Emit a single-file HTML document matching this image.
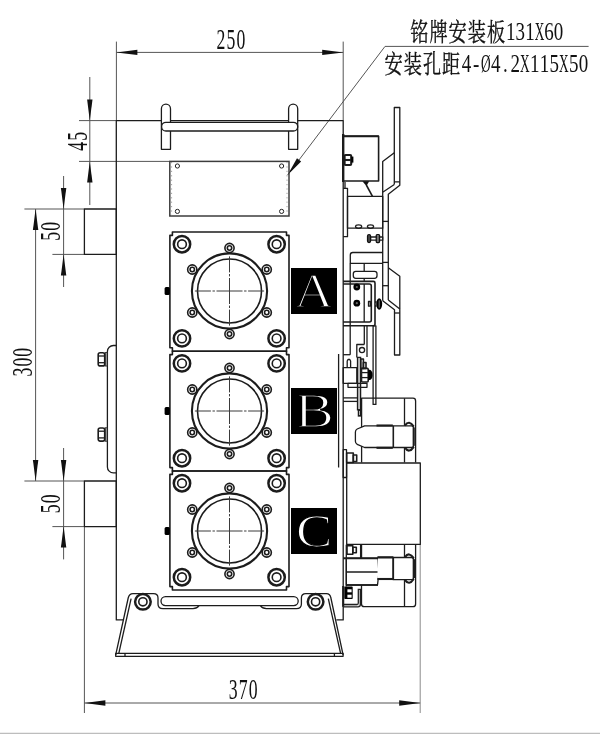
<!DOCTYPE html>
<html lang="zh"><head><meta charset="utf-8"><title>drawing</title><style>
html,body{margin:0;padding:0;background:#fff}
svg{display:block;will-change:transform}
.o,.ow,.o15,.o2,.of{stroke:#1c1c1c;stroke-width:1.3;fill:none;stroke-linecap:butt;stroke-linejoin:round}
.ow{fill:#fff}
.o15{stroke-width:1.6}
.o2{stroke-width:2.1}
.of{stroke-width:.7;stroke:#777}
.o25{stroke:#1c1c1c;stroke-width:2.4;fill:none}
.og{stroke:#666;stroke-width:1.1;fill:none}
.wl{stroke:#bbb;stroke-width:.7;fill:none}
.kd{fill:#444;stroke:#111;stroke-width:1.2}
.gd{fill:#666;stroke:none}
.wf{fill:#fff;stroke:none}
.lb{fill:#ddd;stroke:#222;stroke-width:1.3}
.d2{stroke:#8c8c8c;stroke-width:1;fill:none}
.pl{fill:#c4c4c4;stroke:#1c1c1c;stroke-width:1.3}
.k{fill:#000;stroke:none}
.d{stroke:#555;stroke-width:1;fill:none}
.g{stroke:#bdbdbd;stroke-width:1.2;fill:none}
.h{stroke:#888;stroke-width:.8;stroke-dasharray:1.2 3.2;fill:none}
.np{stroke:#3c3c3c;stroke-width:1.5;fill:none}
.o1{stroke:#222;stroke-width:1;fill:none}
.cl{stroke:#3a3a3a;stroke-width:1;stroke-dasharray:16 1.6 2.4 1.6 26 1.6 2.4 1.6 16;fill:none}
.ring{stroke:#1c1c1c;stroke-width:2.5;fill:none}
.a{fill:#111;stroke:none}
text{fill:#111}
.n,.nd{font-family:"Liberation Serif",serif}
.nd{letter-spacing:1.8px}
.cj{font-family:"Liberation Serif","Noto Serif CJK SC",serif;stroke:#111;stroke-width:.35}
.cj .n{stroke:none}
.wash{fill:#999;stroke:#222;stroke-width:.9}
.wt{stroke-width:1.7 !important}
.w{font-family:"Liberation Serif",serif;fill:#fff;stroke:#000;stroke-width:1.2}
</style></head>
<body>
<svg width="600" height="735" viewBox="0 0 600 735">
<line class="g" x1="0" y1="733.4" x2="600" y2="733.4"/>
<line class="d" x1="116.4" y1="41.6" x2="116.4" y2="120.6"/>
<line class="d" x1="343.2" y1="41.6" x2="343.2" y2="120.6"/>
<line class="d" x1="116.4" y1="52.4" x2="343.2" y2="52.4"/>
<polygon class="a" points="116.4,52.4 137.4,49.7 137.4,55.1"/>
<polygon class="a" points="343.2,52.4 322.2,55.1 322.2,49.7"/>
<line class="d" x1="79" y1="120.6" x2="116.4" y2="120.6"/>
<line class="d" x1="79" y1="161.4" x2="169.6" y2="161.4"/>
<line class="d" x1="89.8" y1="77" x2="89.8" y2="205"/>
<polygon class="a" points="89.8,120.6 87.1,99.6 92.5,99.6"/>
<polygon class="a" points="89.8,161.4 92.5,182.4 87.1,182.4"/>
<line class="d" x1="24.4" y1="209" x2="84.4" y2="209"/>
<line class="d" x1="52.4" y1="254.4" x2="84.4" y2="254.4"/>
<line class="d" x1="63.6" y1="176" x2="63.6" y2="287"/>
<polygon class="a" points="63.6,209 60.9,188 66.3,188"/>
<polygon class="a" points="63.6,254.4 66.3,275.4 60.9,275.4"/>
<line class="d" x1="35.6" y1="209" x2="35.6" y2="481"/>
<polygon class="a" points="35.6,209 38.3,230 32.9,230"/>
<polygon class="a" points="35.6,481 32.9,460 38.3,460"/>
<line class="d" x1="24.4" y1="481" x2="84.4" y2="481"/>
<line class="d" x1="52.4" y1="526.6" x2="84.4" y2="526.6"/>
<line class="d" x1="63.6" y1="448" x2="63.6" y2="559.4"/>
<polygon class="a" points="63.6,481 60.9,460 66.3,460"/>
<polygon class="a" points="63.6,526.6 66.3,547.6 60.9,547.6"/>
<line class="d" x1="84.4" y1="526.6" x2="84.4" y2="713"/>
<line class="d2" x1="420.2" y1="544.7" x2="420.2" y2="713"/>
<line class="d" x1="84.4" y1="703" x2="420.2" y2="703"/>
<polygon class="a" points="84.4,703 105.4,700.3 105.4,705.7"/>
<polygon class="a" points="420.2,703 399.2,705.7 399.2,700.3"/>
<line class="d" x1="385" y1="46.4" x2="588.6" y2="46.4"/>
<line class="d" x1="385" y1="46.4" x2="287.6" y2="175"/>
<polygon class="a" points="287.6,175 297,158.28 301.14,161.42"/>
<text class="nd" transform="translate(216.5,49) scale(0.62,1)" font-size="28.6" text-anchor="start">250</text>
<text class="nd" transform="translate(228.7,699) scale(0.62,1)" font-size="28.6" text-anchor="start">370</text>
<text class="nd" transform="translate(87.3,150.7) rotate(-90) scale(0.62,1)" font-size="28.6" text-anchor="start">45</text>
<text class="nd" transform="translate(60,240.8) rotate(-90) scale(0.62,1)" font-size="28.6" text-anchor="start">50</text>
<text class="nd" transform="translate(32,376.6) rotate(-90) scale(0.62,1)" font-size="28.6" text-anchor="start">300</text>
<text class="nd" transform="translate(60,513.2) rotate(-90) scale(0.62,1)" font-size="28.6" text-anchor="start">50</text>
<text class="cj" y="40.6" font-size="25.4"><tspan x="410.3" textLength="18.16" lengthAdjust="spacingAndGlyphs">铭</tspan><tspan x="429.46" textLength="18.16" lengthAdjust="spacingAndGlyphs">牌</tspan><tspan x="448.62" textLength="18.16" lengthAdjust="spacingAndGlyphs">安</tspan><tspan x="467.78" textLength="18.16" lengthAdjust="spacingAndGlyphs">装</tspan><tspan x="486.94" textLength="18.16" lengthAdjust="spacingAndGlyphs">板</tspan><tspan class="n" x="506.03" y="40" font-size="26" textLength="9.49" lengthAdjust="spacingAndGlyphs">1</tspan><tspan class="n" x="515.58" y="40" font-size="26" textLength="9.49" lengthAdjust="spacingAndGlyphs">3</tspan><tspan class="n" x="525.13" y="40" font-size="26" textLength="9.49" lengthAdjust="spacingAndGlyphs">1</tspan><tspan class="n" x="534.63" y="40" font-size="26" textLength="9.59" lengthAdjust="spacingAndGlyphs">X</tspan><tspan class="n" x="544.23" y="40" font-size="26" textLength="9.49" lengthAdjust="spacingAndGlyphs">6</tspan><tspan class="n" x="553.78" y="40" font-size="26" textLength="9.49" lengthAdjust="spacingAndGlyphs">0</tspan></text>
<text class="cj" y="73.2" font-size="25.4"><tspan x="384.6" textLength="18.16" lengthAdjust="spacingAndGlyphs">安</tspan><tspan x="403.76" textLength="18.16" lengthAdjust="spacingAndGlyphs">装</tspan><tspan x="422.92" textLength="18.16" lengthAdjust="spacingAndGlyphs">孔</tspan><tspan x="442.08" textLength="18.16" lengthAdjust="spacingAndGlyphs">距</tspan><tspan class="n" x="461.63" y="72.4" font-size="26" textLength="9.49" lengthAdjust="spacingAndGlyphs">4</tspan><tspan class="n" x="472.96" y="72.4" font-size="26" textLength="6.32" lengthAdjust="spacingAndGlyphs">-</tspan><tspan class="n" x="481.08" y="72.4" font-size="26" textLength="9.59" lengthAdjust="spacingAndGlyphs">Ø</tspan><tspan class="n" x="490.88" y="72.4" font-size="26" textLength="9.49" lengthAdjust="spacingAndGlyphs">4</tspan><tspan class="n" x="503" y="72.4" font-size="26" textLength="4.75" lengthAdjust="spacingAndGlyphs">.</tspan><tspan class="n" x="510.38" y="72.4" font-size="26" textLength="9.49" lengthAdjust="spacingAndGlyphs">2</tspan><tspan class="n" x="520.08" y="72.4" font-size="26" textLength="9.59" lengthAdjust="spacingAndGlyphs">X</tspan><tspan class="n" x="529.88" y="72.4" font-size="26" textLength="9.49" lengthAdjust="spacingAndGlyphs">1</tspan><tspan class="n" x="539.63" y="72.4" font-size="26" textLength="9.49" lengthAdjust="spacingAndGlyphs">1</tspan><tspan class="n" x="549.38" y="72.4" font-size="26" textLength="9.49" lengthAdjust="spacingAndGlyphs">5</tspan><tspan class="n" x="559.08" y="72.4" font-size="26" textLength="9.59" lengthAdjust="spacingAndGlyphs">X</tspan><tspan class="n" x="568.88" y="72.4" font-size="26" textLength="9.49" lengthAdjust="spacingAndGlyphs">5</tspan><tspan class="n" x="578.63" y="72.4" font-size="26" textLength="9.49" lengthAdjust="spacingAndGlyphs">0</tspan></text>
<polyline class="o" points="123,619.9 116.3,619.9 116.3,120.6 343.2,120.6 343.2,619.9 336.4,619.9"/>
<rect class="o" x="84.4" y="209" width="31.9" height="45.4"/>
<rect class="o" x="84.4" y="481" width="31.9" height="45.6"/>
<path class="ow" d="M161.4,149.3 V108.7 A4.55,4.55 0 0 1 170.5,108.7 V149.3 Z"/>
<path class="ow" d="M288.6,149.3 V108.7 A4.55,4.55 0 0 1 297.7,108.7 V149.3 Z"/>
<rect class="ow" x="161.6" y="122.3" width="136.1" height="8.7" rx="4.35" ry="4.35"/>
<rect class="np" x="169.8" y="161.4" width="119.2" height="54.6"/>
<line class="h" x1="171.6" y1="162" x2="171.6" y2="215.5"/>
<line class="h" x1="287" y1="162" x2="287" y2="215.5"/>
<circle class="o1" cx="177.4" cy="166" r="2.1"/>
<circle class="o1" cx="177.4" cy="211.4" r="2.1"/>
<circle class="o1" cx="281.6" cy="166" r="2.1"/>
<circle class="o1" cx="281.6" cy="211.4" r="2.1"/>
<path class="o" d="M116.4,345.5 H113.4 A6,6 0 0 0 107.4,351.5 V466.9 A6,6 0 0 0 113.4,472.9 H116.4"/>
<rect class="wash" x="105" y="352.6" width="2.4" height="13.4"/>
<rect class="o15" x="98.2" y="352.8" width="6.5" height="13.1" rx="2" ry="2"/>
<line class="o" x1="98.2" y1="356" x2="104.7" y2="356"/>
<line class="o" x1="98.2" y1="362.7" x2="104.7" y2="362.7"/>
<rect class="wash" x="105" y="427.8" width="2.4" height="13.4"/>
<rect class="o15" x="98.2" y="428" width="6.5" height="13.1" rx="2" ry="2"/>
<line class="o" x1="98.2" y1="431.2" x2="104.7" y2="431.2"/>
<line class="o" x1="98.2" y1="437.9" x2="104.7" y2="437.9"/>
<path class="o15" d="M169.9,235.4 H172.4 V232 H286.5 V235.4 H289 V347.8 H286.5 V351.2 H172.4 V347.8 H169.9 Z"/>
<circle class="ring" cx="182" cy="244.2" r="8.2"/>
<circle class="o15" cx="182" cy="244.2" r="4.35"/>
<circle class="ring" cx="182" cy="338.4" r="8.2"/>
<circle class="o15" cx="182" cy="338.4" r="4.35"/>
<circle class="ring" cx="276.6" cy="244.2" r="8.2"/>
<circle class="o15" cx="276.6" cy="244.2" r="4.35"/>
<circle class="ring" cx="276.6" cy="338.4" r="8.2"/>
<circle class="o15" cx="276.6" cy="338.4" r="4.35"/>
<circle class="o15" cx="229.5" cy="248" r="4.6"/>
<circle class="o15" cx="229.5" cy="248" r="2.2"/>
<circle class="o15" cx="192.26" cy="269.5" r="4.6"/>
<circle class="o15" cx="192.26" cy="269.5" r="2.2"/>
<circle class="o15" cx="192.26" cy="312.5" r="4.6"/>
<circle class="o15" cx="192.26" cy="312.5" r="2.2"/>
<circle class="o15" cx="229.5" cy="334" r="4.6"/>
<circle class="o15" cx="229.5" cy="334" r="2.2"/>
<circle class="o15" cx="266.74" cy="312.5" r="4.6"/>
<circle class="o15" cx="266.74" cy="312.5" r="2.2"/>
<circle class="o15" cx="266.74" cy="269.5" r="4.6"/>
<circle class="o15" cx="266.74" cy="269.5" r="2.2"/>
<circle class="o2" cx="229.5" cy="291" r="37.6"/>
<circle class="o15" cx="229.5" cy="291" r="32"/>
<line class="cl" x1="194.9" y1="291" x2="264.1" y2="291"/>
<line class="cl" x1="229.5" y1="256.4" x2="229.5" y2="325.6"/>
<rect class="k" x="164.6" y="287" width="5.3" height="8" rx="1.5" ry="1.5"/>
<path class="o15" d="M169.9,354.6 H172.4 V351.2 H286.5 V354.6 H289 V467.6 H286.5 V471 H172.4 V467.6 H169.9 Z"/>
<circle class="ring" cx="182" cy="363.4" r="8.2"/>
<circle class="o15" cx="182" cy="363.4" r="4.35"/>
<circle class="ring" cx="182" cy="458.2" r="8.2"/>
<circle class="o15" cx="182" cy="458.2" r="4.35"/>
<circle class="ring" cx="276.6" cy="363.4" r="8.2"/>
<circle class="o15" cx="276.6" cy="363.4" r="4.35"/>
<circle class="ring" cx="276.6" cy="458.2" r="8.2"/>
<circle class="o15" cx="276.6" cy="458.2" r="4.35"/>
<circle class="o15" cx="229.5" cy="368" r="4.6"/>
<circle class="o15" cx="229.5" cy="368" r="2.2"/>
<circle class="o15" cx="192.26" cy="389.5" r="4.6"/>
<circle class="o15" cx="192.26" cy="389.5" r="2.2"/>
<circle class="o15" cx="192.26" cy="432.5" r="4.6"/>
<circle class="o15" cx="192.26" cy="432.5" r="2.2"/>
<circle class="o15" cx="229.5" cy="454" r="4.6"/>
<circle class="o15" cx="229.5" cy="454" r="2.2"/>
<circle class="o15" cx="266.74" cy="432.5" r="4.6"/>
<circle class="o15" cx="266.74" cy="432.5" r="2.2"/>
<circle class="o15" cx="266.74" cy="389.5" r="4.6"/>
<circle class="o15" cx="266.74" cy="389.5" r="2.2"/>
<circle class="o2" cx="229.5" cy="411" r="37.6"/>
<circle class="o15" cx="229.5" cy="411" r="32"/>
<line class="cl" x1="194.9" y1="411" x2="264.1" y2="411"/>
<line class="cl" x1="229.5" y1="376.4" x2="229.5" y2="445.6"/>
<rect class="k" x="164.6" y="407" width="5.3" height="8" rx="1.5" ry="1.5"/>
<path class="o15" d="M169.9,474.4 H172.4 V471 H286.5 V474.4 H289 V586.6 H286.5 V590 H172.4 V586.6 H169.9 Z"/>
<circle class="ring" cx="182" cy="483.2" r="8.2"/>
<circle class="o15" cx="182" cy="483.2" r="4.35"/>
<circle class="ring" cx="182" cy="577.2" r="8.2"/>
<circle class="o15" cx="182" cy="577.2" r="4.35"/>
<circle class="ring" cx="276.6" cy="483.2" r="8.2"/>
<circle class="o15" cx="276.6" cy="483.2" r="4.35"/>
<circle class="ring" cx="276.6" cy="577.2" r="8.2"/>
<circle class="o15" cx="276.6" cy="577.2" r="4.35"/>
<circle class="o15" cx="229.5" cy="488" r="4.6"/>
<circle class="o15" cx="229.5" cy="488" r="2.2"/>
<circle class="o15" cx="192.26" cy="509.5" r="4.6"/>
<circle class="o15" cx="192.26" cy="509.5" r="2.2"/>
<circle class="o15" cx="192.26" cy="552.5" r="4.6"/>
<circle class="o15" cx="192.26" cy="552.5" r="2.2"/>
<circle class="o15" cx="229.5" cy="574" r="4.6"/>
<circle class="o15" cx="229.5" cy="574" r="2.2"/>
<circle class="o15" cx="266.74" cy="552.5" r="4.6"/>
<circle class="o15" cx="266.74" cy="552.5" r="2.2"/>
<circle class="o15" cx="266.74" cy="509.5" r="4.6"/>
<circle class="o15" cx="266.74" cy="509.5" r="2.2"/>
<circle class="o2" cx="229.5" cy="531" r="37.6"/>
<circle class="o15" cx="229.5" cy="531" r="32"/>
<line class="cl" x1="194.9" y1="531" x2="264.1" y2="531"/>
<line class="cl" x1="229.5" y1="496.4" x2="229.5" y2="565.6"/>
<rect class="k" x="164.6" y="527" width="5.3" height="8" rx="1.5" ry="1.5"/>
<rect class="k" x="291" y="268" width="46" height="46"/>
<text class="w wt" transform="translate(313.8,306.8) scale(1.1,1)" font-size="49.5" text-anchor="middle">A</text>
<rect class="k" x="291" y="388" width="46" height="46"/>
<text class="w wt" transform="translate(314.4,426.9) scale(1.2,1)" font-size="49.5" text-anchor="middle">B</text>
<rect class="k" x="291" y="508" width="46" height="46"/>
<text class="w" transform="translate(314.2,546.5) scale(1.16,1)" font-size="47" text-anchor="middle">C</text>
<line class="o" x1="338.6" y1="354" x2="338.6" y2="467.5"/>
<rect class="o" x="161" y="596.6" width="137.2" height="9" rx="4.5" ry="4.5"/>
<path class="o" d="M115.7,654.8 L128.2,598 Q129.2,593.6 133,593.6 H153.5 Q158,593.6 158,598 V604 Q158,608.6 163,608.6 H193 Q197,608.6 199,605.6"/>
<path class="o" d="M343.1,654.8 L330.9,598 Q330.2,593.6 326.4,593.6 H305.9 Q301.4,593.6 301.4,598 V604 Q301.4,608.6 296.4,608.6 H266.4 Q262.4,608.6 260.4,605.6"/>
<line class="o" x1="131.1" y1="598.6" x2="118.8" y2="653.3"/>
<line class="o" x1="328.3" y1="598.6" x2="340.6" y2="653.3"/>
<rect class="o" x="115.7" y="653.3" width="227.4" height="3"/>
<line class="o" x1="125" y1="653.3" x2="125" y2="656.3"/>
<line class="o" x1="334.4" y1="653.3" x2="334.4" y2="656.3"/>
<circle class="ring" cx="142.9" cy="601.8" r="7.8"/>
<circle class="o15" cx="142.9" cy="601.8" r="4.1"/>
<circle class="ring" cx="315.6" cy="601.8" r="7.8"/>
<circle class="o15" cx="315.6" cy="601.8" r="4.1"/>
<line class="o25" x1="343.2" y1="134" x2="343.2" y2="182"/>
<rect class="o15" x="343.2" y="136.3" width="35.4" height="44.7"/>
<line class="o2" x1="343.2" y1="136.3" x2="378.8" y2="136.3"/>
<rect class="o2" x="344.6" y="155" width="6.6" height="10" rx="1" ry="1"/>
<line class="o2" x1="344.6" y1="160" x2="351.2" y2="160"/>
<rect class="k" x="351.2" y="156.6" width="2.2" height="6"/>
<line class="o15" x1="366.3" y1="185" x2="372.5" y2="196.3"/>
<polygon class="a" points="362.4,181.3 369.2,181.3 366.4,186"/>
<path class="o" d="M343.2,188.3 H347.5 V236.7 H343.2"/>
<line class="o" x1="345" y1="182" x2="345" y2="188.3"/>
<rect class="o" x="347.5" y="196.4" width="35.2" height="31.8"/>
<ellipse class="o" cx="358.6" cy="226.6" rx="3.1" ry="1.8"/>
<ellipse class="o" cx="370.5" cy="226.6" rx="3.1" ry="1.8"/>
<path class="o" d="M394.3,184.5 V107.5 H399.8 V185.3 L388.3,194.3 V300"/>
<path class="o" d="M399.8,181.8 H394.3 M394.3,184.5 L382.7,192.2 V300.8"/>
<path class="o" d="M394.3,152.7 L382.7,161.6 V192.2"/>
<line class="o" x1="382.7" y1="221.4" x2="388.3" y2="221.4"/>
<line class="o" x1="382.7" y1="262.4" x2="388.3" y2="262.4"/>
<line class="o" x1="382.7" y1="285.7" x2="388.3" y2="285.7"/>
<path class="o" d="M388.3,267.8 L399.8,276.3 V355 H394.5 V309.8 L382.7,300.8"/>
<path class="o" d="M388.3,300 L399.8,309"/>
<line class="o" x1="394.5" y1="313" x2="399.8" y2="313"/>
<rect class="o" x="370.5" y="237" width="12.2" height="3.2"/>
<rect class="kd" x="367.5" y="234.5" width="3.1" height="8.1" rx="1.5" ry="1.5"/>
<rect class="kd" x="376.2" y="234.5" width="3.4" height="8.1" rx="1" ry="1"/>
<line class="wl" x1="377.9" y1="235" x2="377.9" y2="242"/>
<path class="o" d="M382.7,252.5 H352.8 Q350.3,252.5 350.3,255 V263.4 H382.7"/>
<line class="o" x1="364.2" y1="263.4" x2="364.2" y2="271.3"/>
<rect class="o" x="353.3" y="271.3" width="23.7" height="7" rx="2.5" ry="2.5"/>
<line class="o" x1="350.2" y1="263.4" x2="350.2" y2="354.7"/>
<line class="o" x1="364.2" y1="278.3" x2="364.2" y2="281.4"/>
<path class="o15" d="M343.2,281.4 H373.4 A1.6,1.6 0 0 1 375,283 V324.2 A1.6,1.6 0 0 1 373.4,325.8 H343.2"/>
<path class="o15" d="M343.2,284 H369.3 A2,2 0 0 1 371.3,286 V320 A2,2 0 0 1 369.3,322 H343.2"/>
<line class="o" x1="364.2" y1="284" x2="364.2" y2="322"/>
<circle class="k" cx="356.8" cy="287" r="3.4"/>
<circle class="gd" cx="356.8" cy="287" r="1.1"/>
<circle class="k" cx="356.8" cy="303.2" r="3.4"/>
<circle class="gd" cx="356.8" cy="303.2" r="1.1"/>
<rect class="o" x="368.5" y="301.5" width="1.8" height="4.7"/>
<ellipse class="k" cx="379.2" cy="304" rx="3" ry="5.7"/>
<line class="wl" x1="379.2" y1="300.3" x2="379.2" y2="307.7"/>
<line class="o" x1="375" y1="302" x2="376.5" y2="302"/>
<line class="o" x1="375" y1="306" x2="376.5" y2="306"/>
<rect class="o" x="373.1" y="325.8" width="2.8" height="78.6"/>
<line class="o" x1="364.3" y1="325.8" x2="364.3" y2="344.5"/>
<line class="o" x1="367" y1="325.8" x2="367" y2="357"/>
<polyline class="o" points="364.3,344.5 356.8,344.5 356.8,357.4"/>
<circle class="o" cx="362" cy="350.1" r="2.6"/>
<rect class="pl" x="357.5" y="357.4" width="3.1" height="52.4"/>
<rect class="pl" x="358.4" y="409.8" width="2.2" height="6.2"/>
<rect class="o15" x="361.5" y="368.4" width="6.7" height="13.6" rx="1" ry="1"/>
<line class="o" x1="361.5" y1="372.6" x2="368.2" y2="372.6"/>
<line class="o" x1="361.5" y1="377.6" x2="368.2" y2="377.6"/>
<path class="k" d="M368.2,369.8 H370 Q372.6,371 372.6,374.9 Q372.6,378.8 370,380 H368.2 Z"/>
<rect class="o15" x="360.8" y="359" width="2.6" height="9.4"/>
<rect class="o15" x="363.4" y="362.5" width="2.6" height="5.9"/>
<line class="o" x1="343.2" y1="354.7" x2="350.2" y2="354.7"/>
<path class="o" d="M347.2,367.6 V361 L348,359.5 H349.8 L350.6,361 V367.6"/>
<rect class="o" x="343.2" y="367.6" width="13.6" height="15.7"/>
<rect class="o" x="348" y="383.3" width="19" height="4"/>
<line class="o" x1="343.2" y1="397.9" x2="357.5" y2="397.9"/>
<line class="o" x1="343.2" y1="401.4" x2="357.5" y2="401.4"/>
<path class="o" d="M361.6,462.5 V398.2 H413 Q415.6,398.2 415.6,401 V462.5"/>
<line class="o" x1="404.5" y1="398.3" x2="404.5" y2="462.5"/>
<path class="ow" d="M355.4,432 Q355.4,429.8 357.2,429 L364.6,425.8 H411.5 Q413.6,425.8 413.6,428 V445.3 Q413.6,447.5 411.5,447.5 H364.6 L357.2,444.3 Q355.4,443.5 355.4,441.3 Z"/>
<line class="o15" x1="393.3" y1="425.8" x2="393.3" y2="447.5"/>
<path class="o2" d="M404.9,425.6 Q409,419.4 413.8,426.5"/>
<path class="o2" d="M404.9,447.7 Q409,453.9 413.8,446.8"/>
<line class="o2" x1="413.7" y1="427.5" x2="413.7" y2="445.8"/>
<line class="o2" x1="376.5" y1="425.5" x2="392.8" y2="425.5"/>
<line class="o2" x1="376.5" y1="447.8" x2="392.8" y2="447.8"/>
<rect class="o15" x="346.7" y="453" width="6.6" height="9.5"/>
<rect class="o15" x="353.3" y="455" width="3.4" height="6.5"/>
<rect class="o" x="343.2" y="449.7" width="3.3" height="27.8"/>
<rect class="o" x="346.7" y="463" width="73.6" height="81.4"/>
<path class="o" d="M361.5,544.7 V604 Q361.5,606.7 364.2,606.7 H413 Q415.6,606.7 415.6,604 V544.7"/>
<line class="o" x1="404.5" y1="544.7" x2="404.5" y2="606.7"/>
<line class="o2" x1="361" y1="544.7" x2="361" y2="558.3"/>
<rect class="o15" x="347" y="545.8" width="5.8" height="8.4"/>
<rect class="o15" x="352.8" y="547.2" width="3.5" height="5.6"/>
<path class="ow" d="M346.3,558.3 H377.5 L379,572 L377.5,585 H346.3 Z"/>
<line class="o" x1="346.3" y1="572" x2="378.5" y2="572"/>
<path class="ow" d="M377.5,557.5 H393.3 V578.8 H377.5"/>
<path class="ow" d="M393.3,557.5 H411.5 Q413.6,557.5 413.6,559.7 V577.5 Q413.6,579.7 411.5,579.7 H393.3 Z"/>
<line class="o15" x1="393.3" y1="557.5" x2="393.3" y2="579.7"/>
<path class="o2" d="M404.9,557.3 Q409,551.1 413.8,558.2"/>
<path class="o2" d="M404.9,579.9 Q409,586.1 413.8,579"/>
<line class="o25" x1="413.9" y1="559.2" x2="413.9" y2="578"/>
<line class="o2" x1="377.5" y1="557.3" x2="393.3" y2="557.3"/>
<line class="o2" x1="377.5" y1="579" x2="393.3" y2="579"/>
<line class="o2" x1="343.2" y1="558.3" x2="378" y2="558.3"/>
<line class="o15" x1="346.3" y1="585" x2="378" y2="585"/>
<rect class="k" x="344.3" y="586.6" width="8.4" height="12.4" rx="0.8" ry="0.8"/>
<rect class="wf" x="347.4" y="589.3" width="4.2" height="3"/>
<rect class="wf" x="347.4" y="594.7" width="4.2" height="3"/>
<path class="lb" d="M343.2,606.8 H358 Q360.4,606.8 360.4,604.4 V589.3 H358.3 V603 Q358.3,604.5 356.8,604.5 H343.2"/>
<line class="o" x1="346.3" y1="544.7" x2="346.3" y2="586.6"/>
<line class="o2" x1="343.2" y1="586" x2="343.2" y2="606.8"/>
</svg>
</body></html>
